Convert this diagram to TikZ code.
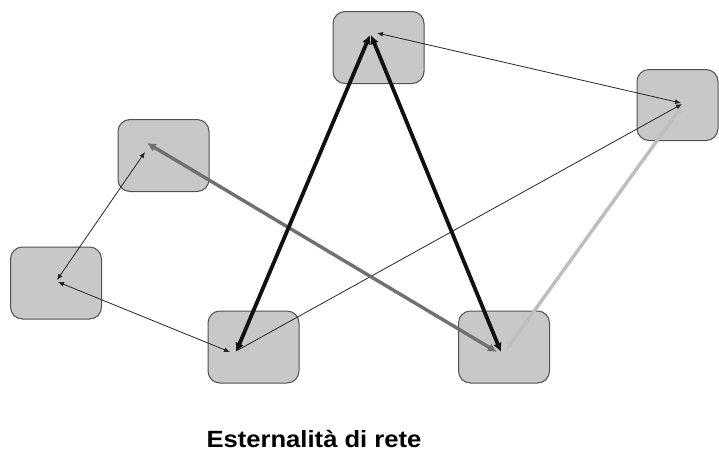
\documentclass[tikz,border=0pt]{standalone}
\usepackage{fontspec}
\setmainfont{Liberation Sans}
\usetikzlibrary{arrows.meta}
\definecolor{boxfill}{HTML}{C8C8C8}
\definecolor{boxline}{HTML}{505050}
\definecolor{darkline}{HTML}{111111}
\definecolor{midline}{HTML}{707070}
\definecolor{lightline}{HTML}{BEBEBE}
\begin{document}
\begin{tikzpicture}[x=1pt,y=-1pt,
  boxnode/.style={draw=boxline, fill=boxfill, line width=1pt, rounded corners=12pt,
    minimum width=91pt, minimum height=72pt, inner sep=0pt},
  thinarrow/.style={draw=black!85, line width=0.8pt, {Latex[length=6pt,width=5pt]}-{Latex[length=6pt,width=5pt]}},
  thinone/.style={draw=black!85, line width=0.8pt, -{Latex[length=6pt,width=5pt]}},
  thickblack/.style={draw=darkline, line width=3.8pt, {Latex[length=9pt,width=9pt]}-{Latex[length=9pt,width=9pt]}},
  thickgrey/.style={draw=midline, line width=3.4pt, {Latex[length=9pt,width=9pt]}-{Latex[length=9pt,width=9pt]}},
  thicklight/.style={draw=lightline, line width=3.4pt, {Latex[length=7pt,width=7pt]}-{Latex[length=7pt,width=7pt]}},
  titletext/.style={font=\bfseries\fontsize{23.5}{26}\selectfont, xscale=1.09, anchor=base, inner sep=0pt}
]
\useasboundingbox[fill=white] (0,0) rectangle (719,453);
% boxes
\node[boxnode] (A) at (56,283) {};
\node[boxnode] (B) at (163.5,155.5) {};
\node[boxnode] (C) at (253.5,347) {};
\node[boxnode] (D) at (504,347) {};
\node[boxnode] (E) at (378.5,47.5) {};
\node[boxnode, minimum width=81pt, minimum height=71pt] (F) at (677.5,105) {};
% anchor points inside boxes
\coordinate (a1) at (57,280);
\coordinate (a2) at (58,282);
\coordinate (b1) at (145,152);
\coordinate (b2) at (147,143);
\coordinate (c1) at (230,352);
\coordinate (c2) at (236,352);
\coordinate (c3) at (238,350);
\coordinate (d1) at (497,352);
\coordinate (d2) at (501,352);
\coordinate (d3) at (506,350);
\coordinate (e1) at (370,35);
\coordinate (e2) at (371,35);
\coordinate (e3) at (377,33);
\coordinate (f1) at (681,103);
\coordinate (f2) at (682,104);
\coordinate (f3) at (682,106);
% connectors
\draw[thicklight] (d3) -- (f3);
\draw[thinone] (c3) -- (f2);
\draw[thinarrow] (e3) -- (f1);
\draw[thinarrow] (a1) -- (b1);
\draw[thinarrow] (a2) -- (c1);
\draw[thickgrey] (b2) -- (d1);
\draw[thickblack] (e1) -- (c2);
\draw[thickblack] (e2) -- (d2);
% title
\node[titletext] (T) at (314,447) {Esternalità di rete};
\end{tikzpicture}
\end{document}
